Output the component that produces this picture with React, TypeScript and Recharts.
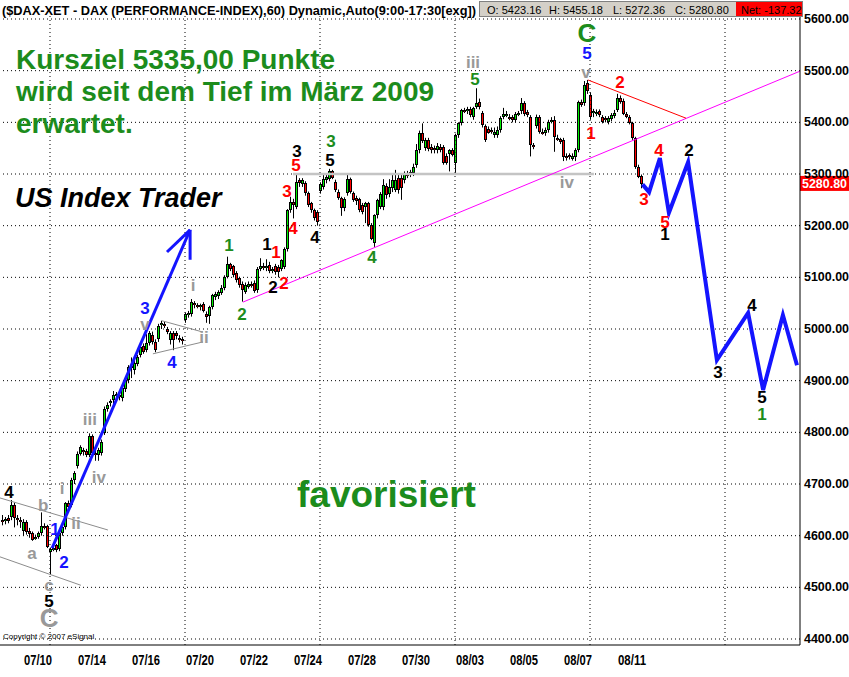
import React from "react";
import {
  ComposedChart,
  Bar,
  Line,
  Scatter,
  XAxis,
  YAxis,
  ReferenceLine,
} from "recharts";

const FONT = "'Liberation Sans', Arial, sans-serif";
const GREEN = "#1c8c1c";
const GRAY = "#999999";
const BLUE = "#1414ff";

// trading days shown on the axis, one entry per session (9 hourly bars each)
const sessions = [
  "07/10", "07/13", "07/14", "07/15", "07/16", "07/17", "07/20", "07/21",
  "07/22", "07/23", "07/24", "07/27", "07/28", "07/29", "07/30", "07/31",
  "08/03", "08/04", "08/05", "08/06", "08/07", "08/10", "08/11",
];

// hourly bars, [open, high, low, close]
const hourly: [number, number, number, number][] = [
  [4630, 4640, 4620, 4628], [4628, 4636, 4622, 4632], [4634, 4640, 4624, 4628],
  [4637, 4669, 4630, 4659], [4659, 4664, 4616, 4634], [4634, 4640, 4620, 4630],
  [4630, 4636, 4615, 4627], [4610, 4632, 4600, 4627], [4627, 4630, 4602, 4608],
  [4610, 4615, 4596, 4603], [4605, 4608, 4590, 4592], [4598, 4602, 4592, 4598],
  [4597, 4608, 4594, 4605], [4606, 4645, 4600, 4619], [4619, 4624, 4612, 4616],
  [4618, 4621, 4576, 4579], [4569, 4577, 4524, 4575], [4575, 4580, 4570, 4577],
  [4582, 4584, 4568, 4572], [4575, 4610, 4570, 4605], [4605, 4620, 4600, 4617],
  [4616, 4665, 4612, 4663], [4663, 4668, 4650, 4656], [4659, 4712, 4655, 4708],
  [4708, 4725, 4700, 4721], [4734, 4763, 4730, 4759], [4759, 4775, 4755, 4772],
  [4765, 4770, 4755, 4763], [4763, 4768, 4752, 4756], [4757, 4798, 4752, 4793],
  [4793, 4796, 4754, 4760], [4760, 4766, 4745, 4757], [4757, 4770, 4745, 4766],
  [4760, 4786, 4755, 4782], [4798, 4850, 4795, 4846], [4846, 4858, 4840, 4853],
  [4856, 4864, 4850, 4861], [4862, 4880, 4855, 4872], [4872, 4878, 4865, 4874],
  [4873, 4880, 4862, 4870], [4866, 4890, 4860, 4885], [4884, 4904, 4878, 4901],
  [4901, 4930, 4895, 4927], [4925, 4945, 4905, 4929], [4920, 4940, 4912, 4934],
  [4933, 4950, 4928, 4946], [4950, 4970, 4945, 4966], [4967, 4972, 4952, 4956],
  [4959, 4990, 4955, 4972], [4972, 4996, 4968, 4992], [4988, 4995, 4970, 4975],
  [4975, 4980, 4955, 4959], [4980, 5010, 4975, 5006], [5008, 5016, 5000, 5012],
  [5010, 5014, 5002, 5007], [5000, 5004, 4990, 4995], [4979, 4996, 4970, 4993],
  [4993, 4996, 4959, 4979], [4993, 4996, 4980, 4986], [4982, 4988, 4974, 4980],
  [4980, 4985, 4970, 4978], [5017, 5032, 5012, 5029], [5027, 5035, 5022, 5031],
  [5029, 5058, 5024, 5053], [5050, 5054, 5040, 5046], [5046, 5050, 5040, 5045],
  [5045, 5049, 5036, 5047], [5048, 5052, 5032, 5034], [5030, 5034, 5012, 5024],
  [5026, 5045, 5010, 5042], [5043, 5068, 5038, 5066], [5062, 5072, 5056, 5068],
  [5063, 5075, 5058, 5072], [5070, 5085, 5066, 5079], [5079, 5104, 5075, 5101],
  [5101, 5140, 5098, 5125], [5125, 5128, 5112, 5117], [5121, 5124, 5100, 5104],
  [5108, 5112, 5090, 5095], [5098, 5101, 5080, 5085], [5088, 5092, 5053, 5075],
  [5072, 5090, 5068, 5085], [5082, 5092, 5078, 5088], [5088, 5092, 5080, 5083],
  [5090, 5094, 5070, 5074], [5075, 5120, 5070, 5117], [5117, 5137, 5112, 5122],
  [5122, 5128, 5114, 5121], [5121, 5135, 5112, 5122], [5124, 5130, 5108, 5113],
  [5114, 5120, 5108, 5117], [5122, 5126, 5105, 5111], [5120, 5124, 5100, 5111],
  [5117, 5135, 5112, 5133], [5120, 5158, 5116, 5154], [5154, 5232, 5150, 5230],
  [5230, 5256, 5225, 5246], [5246, 5252, 5214, 5240], [5237, 5301, 5232, 5285],
  [5288, 5292, 5275, 5282], [5280, 5292, 5275, 5288], [5282, 5286, 5258, 5263],
  [5263, 5266, 5236, 5240], [5243, 5246, 5225, 5230], [5230, 5233, 5210, 5214],
  [5227, 5230, 5200, 5208], [5268, 5284, 5262, 5280], [5275, 5298, 5270, 5290],
  [5288, 5300, 5282, 5295], [5290, 5310, 5286, 5305], [5305, 5308, 5290, 5293],
  [5285, 5289, 5265, 5269], [5266, 5270, 5250, 5253], [5253, 5256, 5219, 5234],
  [5234, 5255, 5228, 5252], [5263, 5301, 5258, 5290], [5290, 5293, 5262, 5265],
  [5263, 5266, 5246, 5250], [5254, 5258, 5240, 5247], [5251, 5254, 5226, 5230],
  [5240, 5244, 5222, 5227], [5237, 5246, 5205, 5243], [5243, 5246, 5198, 5201],
  [5201, 5205, 5172, 5175], [5166, 5222, 5159, 5220], [5220, 5252, 5214, 5250],
  [5237, 5265, 5232, 5262], [5237, 5290, 5230, 5279], [5277, 5282, 5252, 5260],
  [5262, 5290, 5255, 5275], [5272, 5300, 5265, 5288], [5269, 5308, 5265, 5288],
  [5292, 5300, 5262, 5269], [5293, 5298, 5250, 5272], [5288, 5305, 5282, 5301],
  [5300, 5306, 5292, 5299], [5301, 5308, 5294, 5303], [5301, 5320, 5296, 5314],
  [5317, 5358, 5312, 5346], [5346, 5384, 5340, 5380], [5380, 5398, 5360, 5363],
  [5350, 5370, 5345, 5366], [5366, 5370, 5344, 5348], [5353, 5358, 5340, 5346],
  [5350, 5355, 5340, 5349], [5346, 5360, 5340, 5354], [5353, 5358, 5342, 5346],
  [5353, 5356, 5318, 5321], [5335, 5340, 5318, 5321], [5339, 5348, 5305, 5346],
  [5346, 5350, 5334, 5337], [5321, 5378, 5300, 5375], [5375, 5400, 5370, 5398],
  [5398, 5426, 5394, 5424], [5424, 5428, 5418, 5422], [5421, 5430, 5416, 5425],
  [5425, 5430, 5410, 5414], [5411, 5430, 5405, 5427], [5430, 5466, 5426, 5438],
  [5440, 5446, 5425, 5430], [5419, 5422, 5390, 5395], [5392, 5396, 5362, 5366],
  [5388, 5392, 5378, 5380], [5385, 5390, 5378, 5383], [5375, 5390, 5370, 5382],
  [5375, 5392, 5370, 5385], [5385, 5412, 5380, 5408], [5411, 5428, 5406, 5417],
  [5416, 5422, 5410, 5417], [5410, 5416, 5404, 5408], [5411, 5414, 5400, 5404],
  [5404, 5420, 5400, 5417], [5418, 5422, 5412, 5419], [5421, 5447, 5416, 5437],
  [5437, 5441, 5412, 5417], [5420, 5424, 5410, 5414], [5411, 5414, 5334, 5356],
  [5356, 5360, 5348, 5354], [5392, 5415, 5388, 5411], [5411, 5414, 5378, 5382],
  [5382, 5388, 5376, 5381], [5379, 5390, 5374, 5386], [5385, 5405, 5380, 5401],
  [5402, 5410, 5398, 5404], [5405, 5412, 5343, 5372], [5370, 5376, 5364, 5369],
  [5367, 5370, 5358, 5362], [5366, 5370, 5325, 5332], [5335, 5340, 5326, 5333],
  [5336, 5340, 5328, 5333], [5330, 5340, 5326, 5335], [5332, 5350, 5325, 5346],
  [5346, 5442, 5342, 5440], [5440, 5444, 5430, 5434], [5437, 5480, 5432, 5472],
  [5476, 5482, 5455, 5460], [5453, 5458, 5405, 5411], [5420, 5426, 5410, 5421],
  [5417, 5425, 5412, 5420], [5421, 5425, 5410, 5414], [5411, 5414, 5398, 5401],
  [5408, 5412, 5400, 5404], [5401, 5412, 5396, 5408], [5406, 5418, 5402, 5414],
  [5412, 5424, 5408, 5418.12], [5423.16, 5455.18, 5420, 5448], [5448, 5452, 5436, 5440],
  [5442, 5446, 5414, 5417], [5417, 5420, 5408, 5411], [5411, 5414, 5396, 5398],
  [5398, 5401, 5366, 5369], [5369, 5372, 5310, 5314], [5314, 5318, 5292, 5295],
  [5296, 5299, 5272.36, 5280.8],
];

// projected wave path (bar index, price)
const projection = [
  { i: 213.5, p: 5280 }, { i: 215.7, p: 5265 }, { i: 219.3, p: 5331 },
  { i: 222.3, p: 5225 }, { i: 228.7, p: 5323 }, { i: 238.3, p: 4940 },
  { i: 248.7, p: 5031 }, { i: 253.7, p: 4882 }, { i: 260.3, p: 5027 },
  { i: 265, p: 4930 },
];

// wave counts, [bar index, price, text]
type Mark = [number, number, string];
const blackWaves: Mark[] = [
  [2.3, 4684, "4"], [15.7, 4472, "5"], [88.3, 5164, "1"], [90.3, 5081, "2"],
  [98.3, 5343, "3"], [104.3, 5178, "4"], [109.3, 5327, "5"], [229, 5346, "2"],
  [221, 5182, "1"], [238.7, 4915, "3"], [250, 5046, "4"], [253.3, 4868, "5"],
];
const redWaves: Mark[] = [
  [91.3, 5149, "1"], [94, 5089, "2"], [95, 5267, "3"], [97, 5195, "4"],
  [98, 5317, "5"], [196.3, 5379, "1"], [206, 5478, "2"], [214, 5250, "3"],
  [219, 5346, "4"], [221, 5207, "5"],
];
const greenWaves: Mark[] = [
  [75.7, 5161, "1"], [80, 5029, "2"], [109.7, 5362, "3"], [123.3, 5139, "4"],
  [157.7, 5482, "5"], [253.3, 4835, "1"],
];
const blueWaves: Mark[] = [
  [17.7, 4611, "1"], [20.7, 4549, "2"], [47.7, 5039, "3"], [56.7, 4936, "4"],
  [195, 5534, "5"],
];
const grayWaves: Mark[] = [
  [13.7, 4659, "b"], [10, 4566, "a"], [20, 4692, "i"], [24.7, 4624, "ii"],
  [15.7, 4504, "c"], [29.3, 4824, "iii"], [32.3, 4713, "iv"], [47.7, 5008, "v"],
  [63.7, 5085, "i"], [67.3, 4984, "ii"], [157, 5515, "iii"], [194.7, 5497, "v"],
  [188.3, 5284, "iv"],
];
const grayDegree: Mark[] = [[15.7, 4441, "C"]];
const greenDegree: Mark[] = [[195, 5573, "C"]];

// trend lines, [[i1, p1], [i2, p2]]
type Seg = [[number, number], [number, number]];
const supportLine: Seg = [[80.3, 5052], [266, 5499]];
const resistance5300: Seg = [[97, 5300], [197.3, 5300]];
const fallingLine: Seg = [[195.3, 5482], [228, 5408]];
const channelLines: Seg[] = [
  [[-0.67, 4673], [35.3, 4611]],
  [[-0.67, 4559], [26.3, 4504]],
  [[53.3, 5016], [67, 4994]],
  [[50.3, 4952], [67, 4975]],
];
const impulseArrow: Seg[] = [
  [[16.7, 4576], [62.7, 5192]],
  [[62.7, 5192], [55, 5149]],
  [[62.7, 5192], [62.7, 5134]],
];

const priceTicks = [4400, 4500, 4600, 4700, 4800, 4900, 5000, 5100, 5200, 5300, 5400, 5500, 5600];
const lastClose = 5280.8;
const dayQuote = { open: "5423.16", high: "5455.18", low: "5272.36", close: "5280.80", net: "-137.32" };

const BARS_PER_DAY = 9;
const FIRST_SESSION_BAR = 7;

const candles = hourly.map(([o, h, l, c], i) => ({ i, o, h, l, c, range: [l, h] }));
const dateTicks = sessions
  .map((_, d) => d)
  .filter((d) => d % 2 === 0)
  .map((d) => FIRST_SESSION_BAR + BARS_PER_DAY * d + 5);
const weekStarts = [1, 6, 11, 16, 21, 26].map((d) => FIRST_SESSION_BAR + BARS_PER_DAY * d);

const toPoints = (marks: Mark[]) => marks.map(([i, p, t]) => ({ i, p, t }));

function Candle(props: any) {
  const { x, y, width, height, payload } = props;
  const { o, h, l, c } = payload;
  const span = h - l || 1;
  const yAt = (v: number) => y + ((h - v) / span) * height;
  const cx = Math.round(x + width / 2);
  const top = Math.round(yAt(Math.max(o, c)));
  const bot = Math.max(Math.round(yAt(Math.min(o, c))), top + 2);
  const up = c >= o;
  return (
    <g>
      <line x1={cx + 0.5} x2={cx + 0.5} y1={y} y2={y + height} stroke="#000" strokeWidth={1} />
      <rect x={cx - 1} y={top} width={3} height={bot - top} fill="#000" />
      <rect x={cx} y={top + 1} width={1} height={Math.max(bot - top - 2, 0.5)} fill={up ? "#00ee00" : "#ff0000"} />
    </g>
  );
}

const waveText = (color: string, size: number) => (props: any) => (
  <text
    x={props.cx}
    y={props.cy}
    fill={color}
    fontSize={size}
    fontWeight="bold"
    fontFamily={FONT}
    textAnchor="middle"
    dominantBaseline="central"
  >
    {props.payload.t}
  </text>
);

function PriceTick(props: any) {
  const { x, y, payload } = props;
  return (
    <text x={x + 2} y={y} fontSize={12.5} fontWeight="bold" fontFamily={FONT} fill="#000" dominantBaseline="central" textLength={45} lengthAdjust="spacingAndGlyphs">
      {payload.value.toFixed(2)}
    </text>
  );
}

function DateTick(props: any) {
  const { x, y, payload } = props;
  const d = (payload.value - FIRST_SESSION_BAR - 5) / BARS_PER_DAY;
  return (
    <text
      x={x}
      y={y + 12}
      fontSize={15}
      fontWeight="bold"
      fontFamily={FONT}
      fill="#000"
      textAnchor="middle"
      dominantBaseline="central"
      textLength={28}
      lengthAdjust="spacingAndGlyphs"
    >
      {sessions[d]}
    </text>
  );
}

function LastPriceTag(props: any) {
  const { viewBox } = props;
  const x = viewBox.x + viewBox.width;
  const y = viewBox.y;
  return (
    <g>
      <rect x={x} y={y - 8} width={49} height={15} fill="#ff0000" />
      <text x={x + 2} y={y} fontSize={12.5} fontWeight="bold" fontFamily={FONT} fill="#fff" dominantBaseline="central" textLength={45} lengthAdjust="spacingAndGlyphs">
        {lastClose.toFixed(2)}
      </text>
    </g>
  );
}

const seg = (s: Seg) => [{ x: s[0][0], y: s[0][1] }, { x: s[1][0], y: s[1][1] }];

const waveGroups: [Mark[], string, number][] = [
  [blackWaves, "#000", 17],
  [redWaves, "#ff0000", 17],
  [greenWaves, GREEN, 17],
  [blueWaves, BLUE, 17],
  [grayWaves, GRAY, 17],
  [grayDegree, GRAY, 26],
  [greenDegree, GREEN, 26],
];

function TitleBar() {
  return (
    <svg width={849} height={18} style={{ position: "absolute", left: 0, top: 0 }}>
      <text x={2} y={10} fontFamily={FONT} fontWeight="bold" fontSize={13} dominantBaseline="central" textLength={474} lengthAdjust="spacingAndGlyphs">
        ($DAX-XET - DAX (PERFORMANCE-INDEX),60) Dynamic,Auto(9:00-17:30[exg])
      </text>
      <rect x={479.5} y={1.5} width={323} height={15} fill="#d4d0c8" stroke="#808080" />
      <g fontFamily={FONT} fontSize={11} dominantBaseline="central">
        <text x={487} y={9.5}>O: {dayQuote.open}</text>
        <text x={549} y={9.5}>H: {dayQuote.high}</text>
        <text x={613} y={9.5}>L: {dayQuote.low}</text>
        <text x={675} y={9.5}>C: {dayQuote.close}</text>
        <rect x={736} y={2} width={66} height={14} fill="#ff0000" />
        <text x={741} y={9.5}>Net: {dayQuote.net}</text>
      </g>
    </svg>
  );
}

export default function App() {
  return (
    <div style={{ position: "absolute", left: 0, top: 0, width: 849, height: 677, background: "#fff", overflow: "hidden" }}>
      <ComposedChart
        width={849}
        height={677}
        data={candles}
        margin={{ top: 14, right: 0, bottom: 0, left: 0 }}
      >
        <XAxis
          dataKey="i"
          type="number"
          domain={[-2 / 3, 266]}
          allowDataOverflow
          ticks={dateTicks}
          tick={<DateTick />}
          tickLine={false}
          tickSize={0}
          axisLine={{ stroke: "#000" }}
          height={32}
          interval={0}
        />
        <YAxis
          orientation="right"
          type="number"
          domain={[4388.39, 5609.68]}
          allowDataOverflow
          ticks={priceTicks}
          tick={<PriceTick />}
          tickLine={false}
          tickSize={0}
          axisLine={{ stroke: "#000" }}
          width={49}
          interval={0}
        />

        {priceTicks.map((p) => (
          <ReferenceLine key={"h" + p} y={p} stroke="#000" strokeDasharray="1 3" />
        ))}
        {weekStarts.map((i) => (
          <ReferenceLine key={"v" + i} x={i} stroke="#000" strokeDasharray="1 3" />
        ))}

        <ReferenceLine segment={seg(resistance5300)} stroke="#c4c4c4" strokeWidth={2.5} ifOverflow="visible" />
        {channelLines.map((s, k) => (
          <ReferenceLine key={"c" + k} segment={seg(s)} stroke="#8c8c8c" strokeWidth={1} ifOverflow="visible" />
        ))}

        <Bar dataKey="range" shape={<Candle />} barSize={3} isAnimationActive={false} />

        <ReferenceLine segment={seg(supportLine)} stroke="#ff00ff" strokeWidth={1} ifOverflow="visible" />
        <ReferenceLine segment={seg(fallingLine)} stroke="#ff0000" strokeWidth={1} ifOverflow="visible" />
        {impulseArrow.map((s, k) => (
          <ReferenceLine key={"a" + k} segment={seg(s)} stroke={BLUE} strokeWidth={3} ifOverflow="visible" />
        ))}

        <Line
          data={projection}
          dataKey="p"
          type="linear"
          stroke={BLUE}
          strokeWidth={4}
          dot={false}
          isAnimationActive={false}
        />

        {waveGroups.map(([marks, color, size], k) => (
          <Scatter
            key={"w" + k}
            data={toPoints(marks)}
            dataKey="p"
            shape={waveText(color, size)}
            isAnimationActive={false}
          />
        ))}

        <ReferenceLine y={lastClose} stroke="none" ifOverflow="visible" label={<LastPriceTag />} />
      </ComposedChart>

      <TitleBar />

      {/* commentary */}
      <div style={{ position: "absolute", left: 16, top: 44, color: GREEN, fontFamily: FONT, fontWeight: "bold", fontSize: 28, lineHeight: "32px", whiteSpace: "nowrap" }}>
        Kursziel 5335,00 Punkte<br />wird seit dem Tief im März 2009<br />erwartet.
      </div>
      <div style={{ position: "absolute", left: 15, top: 182, color: "#000", fontFamily: FONT, fontWeight: "bold", fontStyle: "italic", fontSize: 27, lineHeight: "32px", whiteSpace: "nowrap" }}>
        US Index Trader
      </div>
      <div style={{ position: "absolute", left: 297, top: 474, color: GREEN, fontFamily: FONT, fontWeight: "bold", fontSize: 37, lineHeight: "42px", whiteSpace: "nowrap" }}>
        favorisiert
      </div>
      <div style={{ position: "absolute", left: 3, top: 632, color: "#000", fontFamily: FONT, fontSize: 8, lineHeight: "10px", whiteSpace: "nowrap" }}>
        Copyright © 2007 eSignal
      </div>
    </div>
  );
}
